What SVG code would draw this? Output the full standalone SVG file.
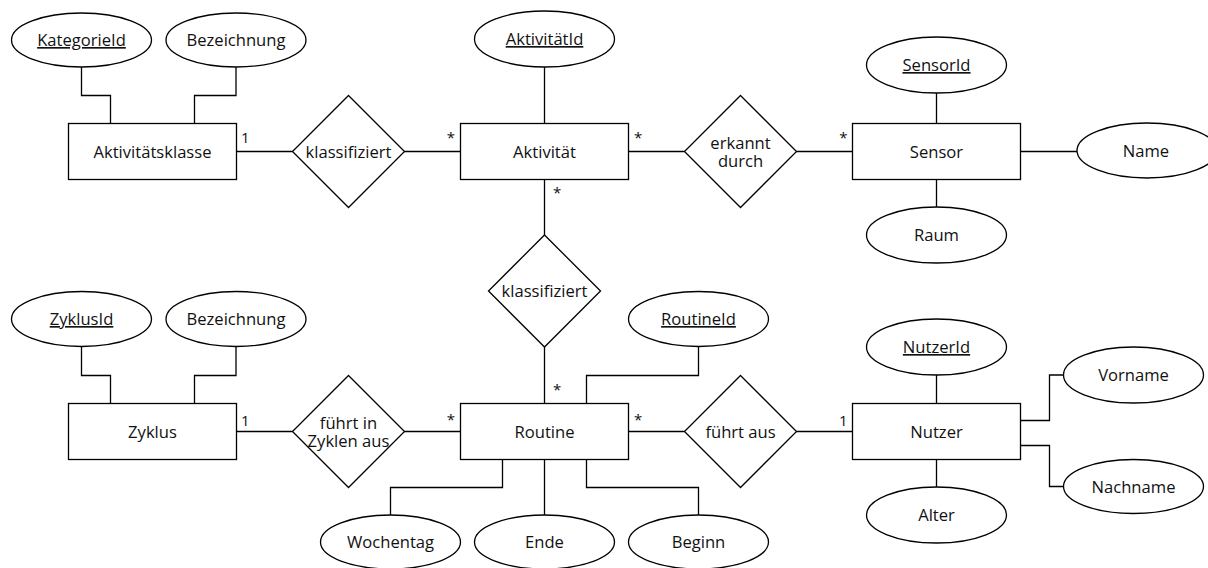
<svg xmlns="http://www.w3.org/2000/svg" width="1208" height="568" viewBox="0 0 1208 568">
<style>
.s{fill:#fff;stroke:#000;stroke-width:1.3}
.c{fill:none;stroke:#000;stroke-width:1.3}
.t{font-family:"Open Sans","Liberation Sans",sans-serif;font-size:16.6px;fill:#111;text-anchor:middle}
.u{text-decoration:underline}
.m{font-family:"Open Sans","Liberation Sans",sans-serif;font-size:15px;fill:#111}
</style>
<rect width="1208" height="568" fill="#fff"/>
<g id="connectors">
<path class="c" d="M236.5,151.5H292.5M404.5,151.5H460.5M628.5,151.5H684.5M796.5,151.5H852.5M1020.5,151.5H1077"/>
<path class="c" d="M936.5,93V123.5M936.5,179.5V207M544.5,67V123.5M544.5,179.5V235M544.5,347V403.5"/>
<path class="c" d="M81.5,67V95.5H110.5V123.5M236,67V95.5H194.5V123.5"/>
<path class="c" d="M81.5,346.5V375.5H110.5V403.5M236,346.5V375.5H194.5V403.5"/>
<path class="c" d="M236.5,431.5H292.5M404.5,431.5H460.5M628.5,431.5H684.5M796.5,431.5H852.5"/>
<path class="c" d="M698.5,346.5V375.5H586.5V403.5"/>
<path class="c" d="M502.5,459.5V487.5H390.5V515M544.5,459.5V515M586.5,459.5V487.5H698.5V515"/>
<path class="c" d="M936.5,375V403.5M936.5,459.5V487M1020.5,420.5H1049.5V375H1063.5M1020.5,445.5H1049.5V486.5H1063.5"/>
<text class="m" x="241" y="143">1</text>
<text class="m" x="455" y="143" text-anchor="end">*</text>
<text class="m" x="634" y="143">*</text>
<text class="m" x="847.5" y="143" text-anchor="end">*</text>
<text class="m" x="553" y="198">*</text>
<text class="m" x="553" y="395">*</text>
<text class="m" x="241" y="425.5">1</text>
<text class="m" x="455" y="424.5" text-anchor="end">*</text>
<text class="m" x="634" y="424.5">*</text>
<text class="m" x="847.5" y="425.5" text-anchor="end">1</text>
</g>
<g id="aktivitaetsklasse"><rect class="s" x="68.5" y="123.5" width="168" height="56"/><text class="t" x="152.5" y="157.5">Aktivitätsklasse</text></g>
<g id="kategorieid"><ellipse class="s" cx="81.5" cy="40" rx="70" ry="27"/><text class="t u" x="81.5" y="46">KategorieId</text></g>
<g id="bezeichnung1"><ellipse class="s" cx="236" cy="40" rx="70" ry="27"/><text class="t" x="236" y="46">Bezeichnung</text></g>
<g id="klassifiziert1"><polygon class="s" points="348.5,95.5 404.5,151.5 348.5,207.5 292.5,151.5"/><text class="t" x="348.5" y="157.5">klassifiziert</text></g>
<g id="aktivitaet"><rect class="s" x="460.5" y="123.5" width="168" height="56"/><text class="t" x="544.5" y="157.5">Aktivität</text></g>
<g id="aktivitaetid"><ellipse class="s" cx="544.5" cy="39" rx="70" ry="28"/><text class="t u" x="544.5" y="45">AktivitätId</text></g>
<g id="erkanntdurch"><polygon class="s" points="740.5,95.5 796.5,151.5 740.5,207.5 684.5,151.5"/><text class="t" x="740.5" y="148.5">erkannt<tspan x="740.5" dy="18">durch</tspan></text></g>
<g id="sensor"><rect class="s" x="852.5" y="123.5" width="168" height="56"/><text class="t" x="936.5" y="157.5">Sensor</text></g>
<g id="sensorid"><ellipse class="s" cx="936.5" cy="65" rx="70" ry="28"/><text class="t u" x="936.5" y="71">SensorId</text></g>
<g id="raum"><ellipse class="s" cx="936.5" cy="235" rx="70" ry="28"/><text class="t" x="936.5" y="241">Raum</text></g>
<g id="name"><ellipse class="s" cx="1147" cy="150.5" rx="70" ry="27.5"/><text class="t" x="1146" y="156.5">Name</text></g>
<g id="klassifiziert2"><polygon class="s" points="544.5,235 600.5,291 544.5,347 488.5,291"/><text class="t" x="544.5" y="297">klassifiziert</text></g>
<g id="zyklus"><rect class="s" x="68.5" y="403.5" width="168" height="56"/><text class="t" x="152.5" y="437.5">Zyklus</text></g>
<g id="zyklusid"><ellipse class="s" cx="81.5" cy="319" rx="70" ry="27.5"/><text class="t u" x="81.5" y="325">ZyklusId</text></g>
<g id="bezeichnung2"><ellipse class="s" cx="236" cy="319" rx="70" ry="27.5"/><text class="t" x="236" y="325">Bezeichnung</text></g>
<g id="fuehrtinzyklenaus"><polygon class="s" points="348.5,375.5 404.5,431.5 348.5,487.5 292.5,431.5"/><text class="t" x="348.5" y="428.5">führt in<tspan x="348.5" dy="18">Zyklen aus</tspan></text></g>
<g id="routine"><rect class="s" x="460.5" y="403.5" width="168" height="56"/><text class="t" x="544.5" y="437.5">Routine</text></g>
<g id="routineid"><ellipse class="s" cx="698.5" cy="319" rx="70" ry="27.5"/><text class="t u" x="698.5" y="325">RoutineId</text></g>
<g id="fuehrtaus"><polygon class="s" points="740.5,375.5 796.5,431.5 740.5,487.5 684.5,431.5"/><text class="t" x="740.5" y="437.5">führt aus</text></g>
<g id="nutzer"><rect class="s" x="852.5" y="403.5" width="168" height="56"/><text class="t" x="936.5" y="437.5">Nutzer</text></g>
<g id="nutzerid"><ellipse class="s" cx="936.5" cy="347" rx="70" ry="28"/><text class="t u" x="936.5" y="353">NutzerId</text></g>
<g id="alter"><ellipse class="s" cx="936.5" cy="515" rx="70" ry="28"/><text class="t" x="936.5" y="521">Alter</text></g>
<g id="vorname"><ellipse class="s" cx="1133.5" cy="375" rx="70" ry="28"/><text class="t" x="1133.5" y="381">Vorname</text></g>
<g id="nachname"><ellipse class="s" cx="1133.5" cy="486.5" rx="70" ry="27"/><text class="t" x="1133.5" y="492.5">Nachname</text></g>
<g id="wochentag"><ellipse class="s" cx="390.5" cy="542" rx="70" ry="27"/><text class="t" x="390.5" y="548">Wochentag</text></g>
<g id="ende"><ellipse class="s" cx="544.5" cy="542" rx="70" ry="27"/><text class="t" x="544.5" y="548">Ende</text></g>
<g id="beginn"><ellipse class="s" cx="698.5" cy="542" rx="70" ry="27"/><text class="t" x="698.5" y="548">Beginn</text></g>
</svg>
